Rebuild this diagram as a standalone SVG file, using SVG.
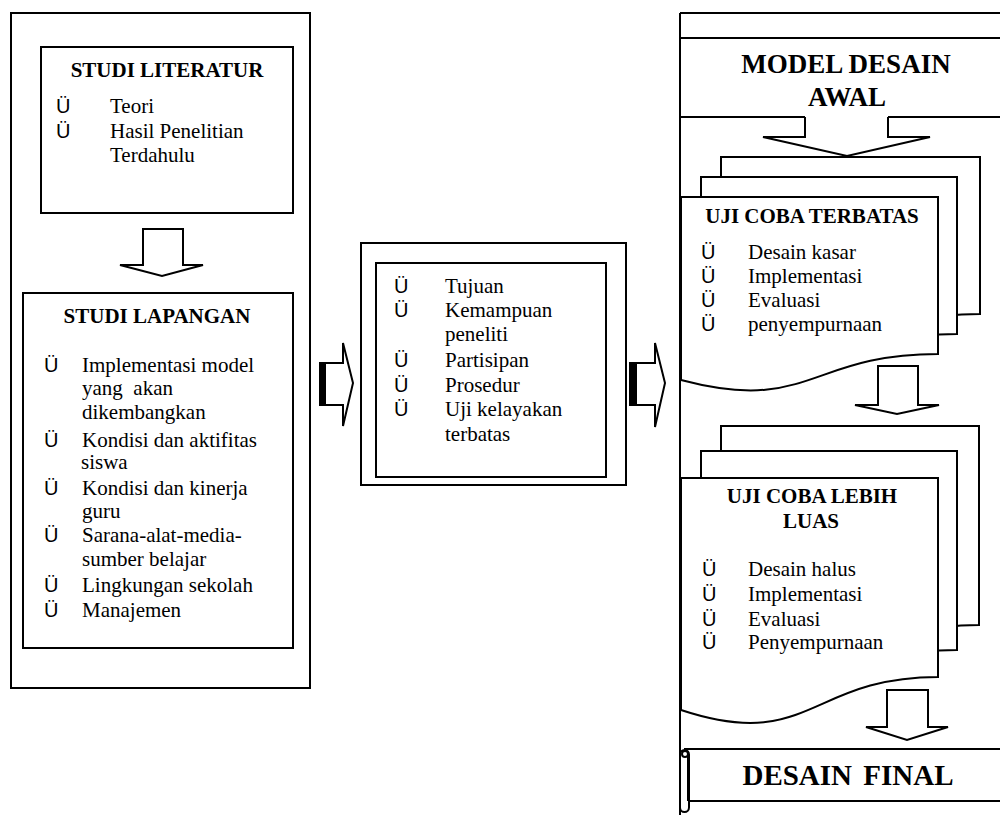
<svg xmlns="http://www.w3.org/2000/svg" width="1000" height="815" viewBox="0 0 1000 815">
<style>
.box{fill:#fff;stroke:#000;stroke-width:2}
.ln{fill:none;stroke:#000;stroke-width:2}
.t{font-family:"Liberation Serif","Times New Roman",serif;font-size:21px;fill:#000}
.b{font-weight:bold}
.bul{font-family:"Liberation Sans",Arial,sans-serif;font-size:20px;fill:#000}
.m{text-anchor:middle}
</style>
<rect width="1000" height="815" fill="#fff"/>

<g id="kolom-kiri">
<rect x="11" y="13" width="299" height="675" class="box"/>
</g>

<g id="studi-literatur">
<rect x="41" y="47" width="252" height="166" class="box"/>
<text x="167" y="77" class="t b m">STUDI LITERATUR</text>
<text x="56" y="113" class="bul">Ü</text><text x="110" y="113" class="t">Teori</text>
<text x="56" y="138" class="bul">Ü</text><text x="110" y="138" class="t">Hasil Penelitian</text>
<text x="110" y="162" class="t">Terdahulu</text>
</g>

<g id="studi-lapangan">
<rect x="23" y="293" width="270" height="355" class="box"/>
<text x="157" y="323" class="t b m">STUDI LAPANGAN</text>
<text x="44" y="372" class="bul">Ü</text><text x="82" y="372" class="t">Implementasi model</text>
<text x="82" y="395" class="t" xml:space="preserve">yang  akan</text>
<text x="82" y="419" class="t">dikembangkan</text>
<text x="44" y="447" class="bul">Ü</text><text x="82" y="447" class="t">Kondisi dan aktifitas</text>
<text x="81" y="469" class="t">siswa</text>
<text x="44" y="495" class="bul">Ü</text><text x="82" y="495" class="t">Kondisi dan kinerja</text>
<text x="82" y="518" class="t">guru</text>
<text x="44" y="542" class="bul">Ü</text><text x="82" y="542" class="t">Sarana-alat-media-</text>
<text x="82" y="566" class="t">sumber belajar</text>
<text x="44" y="592" class="bul">Ü</text><text x="82" y="592" class="t">Lingkungan sekolah</text>
<text x="44" y="617" class="bul">Ü</text><text x="82" y="617" class="t">Manajemen</text>
</g>

<g id="kriteria">
<rect x="361" y="243" width="265" height="242" class="box"/>
<rect x="376" y="263" width="230" height="214" class="box"/>
<text x="394" y="293" class="bul">Ü</text><text x="445" y="293" class="t">Tujuan</text>
<text x="394" y="317" class="bul">Ü</text><text x="445" y="317" class="t">Kemampuan</text>
<text x="445" y="341" class="t">peneliti</text>
<text x="394" y="367" class="bul">Ü</text><text x="445" y="367" class="t">Partisipan</text>
<text x="394" y="392" class="bul">Ü</text><text x="445" y="392" class="t">Prosedur</text>
<text x="394" y="416" class="bul">Ü</text><text x="445" y="416" class="t">Uji kelayakan</text>
<text x="445" y="441" class="t">terbatas</text>
</g>

<g id="kolom-kanan">
<path d="M680,13 H1000 M680,13 V815" class="ln"/>
</g>

<g id="model-desain-awal">
<path d="M680,38 H1000 M680,117 H805 M888,117 H1000" class="ln"/>
<text x="846" y="73" class="t b m" style="font-size:27px">MODEL DESAIN</text>
<text x="847" y="106" class="t b m" style="font-size:27px">AWAL</text>
</g>

<g id="uji-coba-terbatas">
<path d="M721,157 H980 V314 C850.5,314 850.5,374 721,340 Z" class="box"/>
<path d="M701,177 H957 V334 C829,334 829,394 701,360 Z" class="box"/>
<path d="M681,197 H938 V354 C809.5,354 809.5,414 681,380 Z" class="box"/>
<text x="812" y="223" class="t b m">UJI COBA TERBATAS</text>
<text x="701" y="259" class="bul">Ü</text><text x="748" y="259" class="t">Desain kasar</text>
<text x="701" y="283" class="bul">Ü</text><text x="748" y="283" class="t">Implementasi</text>
<text x="701" y="307" class="bul">Ü</text><text x="748" y="307" class="t">Evaluasi</text>
<text x="701" y="331" class="bul">Ü</text><text x="748" y="331" class="t">penyempurnaan</text>
</g>

<g id="uji-coba-lebih-luas">
<path d="M721,426 H979 V625 C850,625 850,700.5 721,658 Z" class="box"/>
<path d="M701,451 H957 V650 C829,650 829,725.5 701,683 Z" class="box"/>
<path d="M681,478 H938 V677 C809.5,677 809.5,752.5 681,710 Z" class="box"/>
<text x="812" y="503" class="t b m">UJI COBA LEBIH</text>
<text x="811" y="528" class="t b m">LUAS</text>
<text x="702" y="576" class="bul">Ü</text><text x="748" y="576" class="t">Desain halus</text>
<text x="702" y="601" class="bul">Ü</text><text x="748" y="601" class="t">Implementasi</text>
<text x="702" y="626" class="bul">Ü</text><text x="748" y="626" class="t">Evaluasi</text>
<text x="702" y="649" class="bul">Ü</text><text x="748" y="649" class="t">Penyempurnaan</text>
</g>

<g id="desain-final">
<path d="M684,749 H1000 M688,801 H1000" class="ln"/>
<rect x="680" y="750" width="9" height="62" rx="4.5" class="box"/>
<circle cx="685" cy="754" r="3" class="box" stroke-width="1.5"/>
<path d="M688,757 V801" class="ln" stroke-width="1.5"/>
<text x="848" y="785" class="t b m" style="font-size:29px;word-spacing:4px">DESAIN FINAL</text>
</g>

<g id="connectors">
<polygon points="143,229 183,229 183,265 203,265 162,276 120,265 143,265" class="box"/>
<polygon points="320,363 343,363 343,343 353,383 343,426 343,405 320,405" class="box"/>
<rect x="320" y="363" width="6" height="42" fill="#000"/>
<polygon points="630,363 655,363 655,343 665,383 655,427 655,405 630,405" class="box"/>
<rect x="630" y="363" width="7" height="42" fill="#000"/>
<path d="M805,117 V137 H763 L847,156 L930,137 H888 V117" class="box"/>
<polygon points="878,366 918,366 918,405 939,405 897,414 855,405 878,405" class="box"/>
<polygon points="887,690 928,690 928,727 948,727 907,740 866,727 887,727" class="box"/>
</g>
</svg>
